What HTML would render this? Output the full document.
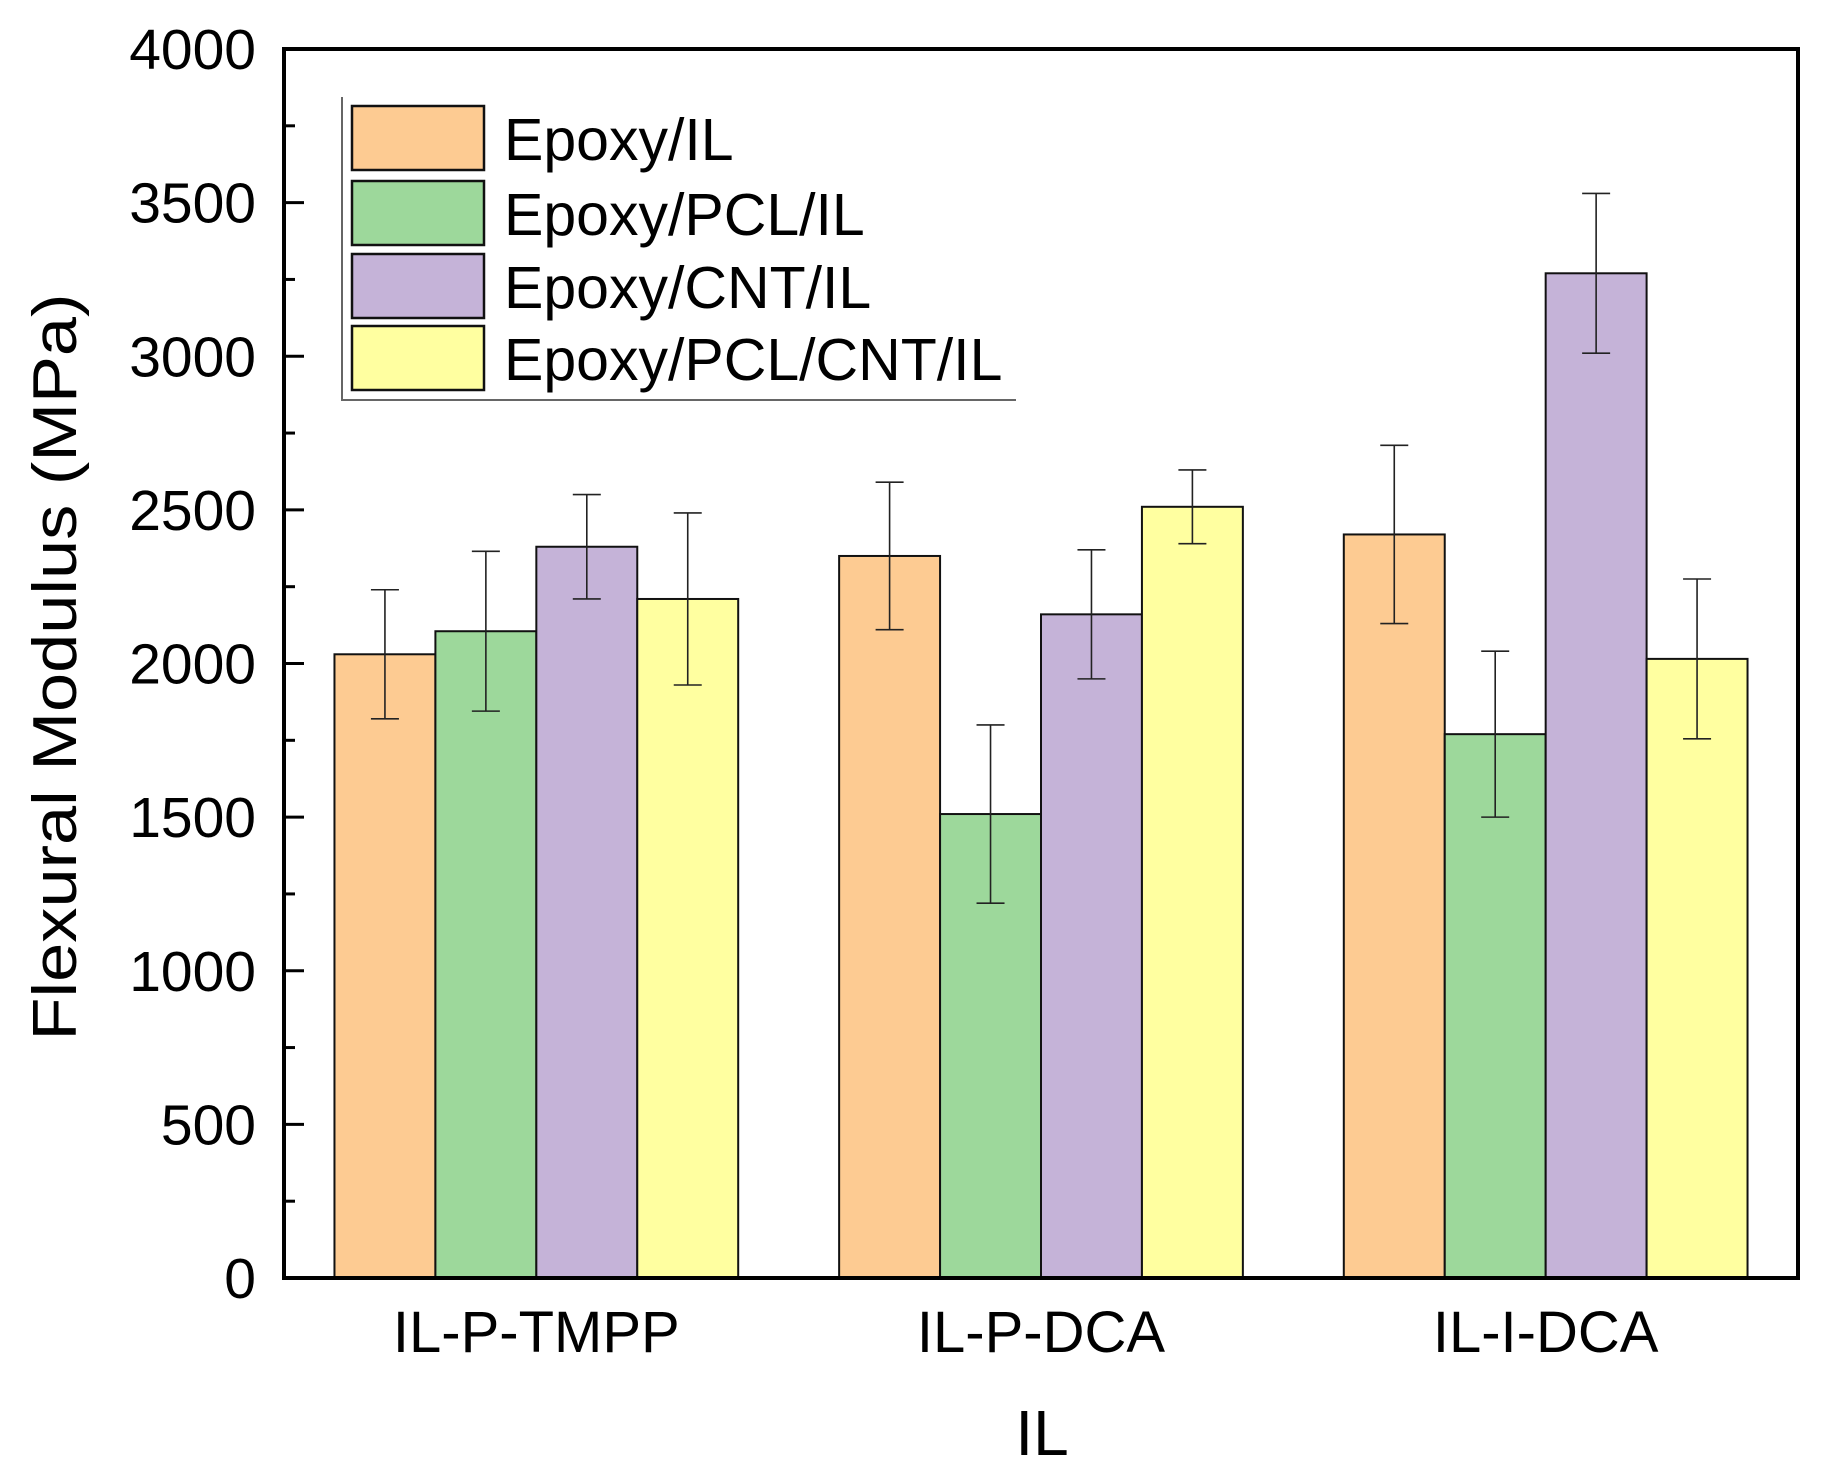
<!DOCTYPE html>
<html><head><meta charset="utf-8"><style>
html,body{margin:0;padding:0;background:#fff;}
svg{display:block;font-family:"Liberation Sans",Arial,sans-serif;}
</style></head><body>
<svg id="chart" width="1821" height="1473" viewBox="0 0 1821 1473" xmlns="http://www.w3.org/2000/svg">
<g id="bars"></g>
<g id="errs"></g>
<g id="axes"></g>
<g id="legend"></g>
</svg>
<script>
const categories = ["IL-P-TMPP", "IL-P-DCA", "IL-I-DCA"];
const seriesNames = ["Epoxy/IL", "Epoxy/PCL/IL", "Epoxy/CNT/IL", "Epoxy/PCL/CNT/IL"];
const epoxyIL = [2030, 2350, 2420];
const epoxyPCLIL = [2105, 1510, 1770];
const epoxyCNTIL = [2380, 2160, 3270];
const epoxyPCLCNTIL = [2210, 2510, 2015];
const errEpoxyIL = [210, 240, 290];
const errEpoxyPCLIL = [260, 290, 270];
const errEpoxyCNTIL = [170, 210, 260];
const errEpoxyPCLCNTIL = [280, 120, 260];
const yTicks = [0, 500, 1000, 1500, 2000, 2500, 3000, 3500, 4000];

const series = [epoxyIL, epoxyPCLIL, epoxyCNTIL, epoxyPCLCNTIL];
const errs = [errEpoxyIL, errEpoxyPCLIL, errEpoxyCNTIL, errEpoxyPCLCNTIL];
const colors = ["#FDCB92", "#9DD89B", "#C5B3D8", "#FFFFA0"];
const NS = "http://www.w3.org/2000/svg";
const L = 284, R = 1798, T = 49, B = 1278, YMAX = 4000;
const y = v => B - (v / YMAX) * (B - T);
const band = (R - L) / categories.length;
const barW = band * 0.2;
const x = (ci, si) => L + band * ci + band / 2 + (si - 2) * barW;
function mk(tag, attrs, parent) {
  const e = document.createElementNS(NS, tag);
  for (const k in attrs) e.setAttribute(k, attrs[k]);
  parent.appendChild(e);
  return e;
}
const gb = document.getElementById('bars'), ge = document.getElementById('errs'),
      ga = document.getElementById('axes'), gl = document.getElementById('legend');

series.forEach((vals, si) => {
  vals.forEach((v, ci) => {
    const r = mk('rect', {x: x(ci, si), y: y(v), width: barW, height: B - y(v), fill: colors[si], stroke: '#111', 'stroke-width': 2}, gb);
    
    
    const cx = x(ci, si) + barW / 2, e = errs[si][ci];
    const g = mk('g', {stroke: '#222', 'stroke-width': 1.6}, ge);
    
    
    mk('line', {x1: cx, x2: cx, y1: y(v + e), y2: y(v - e)}, g);
    mk('line', {x1: cx - 14, x2: cx + 14, y1: y(v + e), y2: y(v + e)}, g);
    mk('line', {x1: cx - 14, x2: cx + 14, y1: y(v - e), y2: y(v - e)}, g);
  });
});

const fr = mk('rect', {x: L, y: T, width: R - L, height: B - T, fill: 'none', stroke: '#000', 'stroke-width': 4}, ga);


yTicks.forEach((t, i) => {
  mk('line', {x1: L, x2: L + 20, y1: y(t), y2: y(t), stroke: '#000', 'stroke-width': 3}, ga);
  if (i < yTicks.length - 1) {
    const m = (t + yTicks[i + 1]) / 2;
    mk('line', {x1: L, x2: L + 11, y1: y(m), y2: y(m), stroke: '#000', 'stroke-width': 3}, ga);
  }
  const tx = mk('text', {x: 256, y: y(t) + 20, 'text-anchor': 'end', 'font-size': 57, fill: '#000'}, ga);
  tx.textContent = t;
  
  
});
categories.forEach((c, ci) => {
  const tx = mk('text', {x: L + band * ci + band / 2, y: 1352, 'text-anchor': 'middle', 'font-size': 58, fill: '#000'}, ga);
  tx.textContent = c;
  
  
});
const xt = mk('text', {x: 1042, y: 1455, 'text-anchor': 'middle', 'font-size': 64, fill: '#000'}, ga);
xt.textContent = 'IL';


const yt = mk('text', {x: 0, y: 0, 'text-anchor': 'middle', 'font-size': 62, fill: '#000', transform: 'translate(76,667) rotate(-90)', textLength: 747, lengthAdjust: 'spacingAndGlyphs'}, ga);
yt.textContent = 'Flexural Modulus (MPa)';



const lb = mk('path', {d: 'M342 97 L342 400 L1016 400', fill: 'none', stroke: '#666', 'stroke-width': 2}, gl);


const rowsY = [106, 181, 254, 326];
seriesNames.forEach((n, si) => {
  const g = mk('g', {}, gl);
  
  
  mk('rect', {x: 352, y: rowsY[si], width: 132, height: 64, fill: colors[si], stroke: '#111', 'stroke-width': 2.5}, g);
  const t = mk('text', {x: 504, y: rowsY[si] + 54, 'font-size': 59, fill: '#000'}, g);
  t.textContent = n;
});
</script>
</body></html>
